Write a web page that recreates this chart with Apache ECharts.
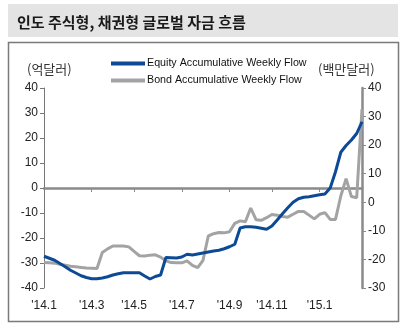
<!DOCTYPE html>
<html>
<head>
<meta charset="utf-8">
<script src="https://cdn.jsdelivr.net/npm/echarts@6/dist/echarts.min.js"></script>
<style>
  html, body { margin: 0; padding: 0; background: #fff; }
  #chart { width: 405px; height: 328px; }
</style>
</head>
<body>
<div id="chart"></div>
<script>
// Weekly cumulative flows, Jan 2014 – Feb 2015 (61 weeks)
const weeks = Array.from({ length: 61 }, (_, i) => i);

// Month labels and the week index they sit on
const tickLabels = ["'14.1", "'14.3", "'14.5", "'14.7", "'14.9", "'14.11", "'15.1"];
const tickIndex = [0, 9, 17, 26, 35, 43, 52];

// Equity fund flow, 억달러 (left axis)
const equityFlow = [
  -27.3, -28.1, -28.9, -30.2, -31.5, -32.9, -34.0, -35.1, -35.8, -36.3,
  -36.3, -36.0, -35.5, -34.8, -34.3, -33.9, -33.9, -33.9, -33.9, -35.2,
  -36.4, -35.4, -34.8, -27.8, -27.9, -28.0, -27.6, -26.5, -26.8, -26.4,
  -26.0, -25.6, -25.2, -24.9, -24.3, -23.5, -22.5, -16.0, -15.5, -15.5,
  -15.7, -16.1, -16.5, -15.2, -12.8, -10.3, -7.9, -5.7, -4.3, -3.7,
  -3.5, -3.1, -2.7, -2.4, 0.0, 6.5, 14.3, 17.0, 19.2, 21.8,
  26.5
];

// Bond fund flow, 백만달러 (right axis)
const bondFlow = [
  -21.1, -21.2, -21.3, -21.7, -22.0, -22.4, -22.6, -22.8, -23.0, -23.1,
  -23.2, -17.6, -16.3, -15.3, -15.3, -15.3, -15.6, -17.2, -18.7, -18.8,
  -18.5, -18.4, -19.2, -20.5, -21.1, -21.2, -21.2, -20.5, -22.1, -22.9,
  -20.3, -11.8, -11.0, -10.6, -10.7, -10.3, -7.4, -6.5, -6.8, -2.0,
  -6.1, -6.3, -5.4, -4.3, -4.5, -5.0, -5.2, -4.2, -3.2, -3.2,
  -4.5, -5.8, -4.2, -3.6, -6.0, -6.0, 2.2, 8.3, 2.0, 1.6,
  32.6
];

const seriesNames = ['Equity Accumulative Weekly Flow', 'Bond Accumulative Weekly Flow'];

const FONT = 'Liberation Sans, Arial, sans-serif';
const KFONT = 'Noto Sans CJK KR, sans-serif';
const AXIS_GRAY = '#8a8a8a';
const isTick = (i) => tickIndex.indexOf(i) !== -1;

const chart = echarts.init(document.getElementById('chart'), null, { renderer: 'canvas' });

chart.setOption({
  animation: false,
  backgroundColor: '#ffffff',
  title: {
    text: '인도 주식형, 채권형 글로벌 자금 흐름',
    left: 12,
    top: 10,
    textStyle: { fontFamily: KFONT, fontSize: 15, fontWeight: 'bold', color: '#1a1a1a' }
  },
  graphic: [
    { type: 'rect', z: -10, shape: { x: 8, y: 4, width: 390, height: 33 }, style: { fill: '#e4e4e4' } },
    { type: 'rect', z: -10, shape: { x: 8.5, y: 42.5, width: 390, height: 279 },
      style: { fill: 'none', stroke: '#7a7a7a', lineWidth: 1.5 } },
    { type: 'text', left: 27, top: 63,
      style: { text: '(억달러)', font: '13px ' + KFONT, fill: '#333' } },
    { type: 'text', left: 318, top: 63,
      style: { text: '(백만달러)', font: '13px ' + KFONT, fill: '#333' } }
  ],
  legend: {
    orient: 'vertical',
    left: 106,
    top: 53,
    itemWidth: 34,
    itemHeight: 4,
    itemGap: 6,
    icon: 'rect',
    data: seriesNames,
    textStyle: { fontFamily: FONT, fontSize: 10.7, color: '#111', padding: [0, 0, 0, -3] }
  },
  grid: { left: 44, right: 43, top: 88, bottom: 40 },
  xAxis: [
    {
      type: 'category',
      data: weeks,
      boundaryGap: false,
      axisLine: { onZero: true, lineStyle: { color: AXIS_GRAY, width: 2.5 } },
      axisTick: { show: true, interval: (i) => isTick(i) && i !== 0, length: 4, lineStyle: { color: AXIS_GRAY, width: 1 } },
      axisLabel: { show: false },
      splitLine: { show: false }
    },
    {
      type: 'category',
      data: weeks,
      boundaryGap: false,
      position: 'bottom',
      axisLine: { show: false, onZero: false },
      axisTick: { show: false },
      axisLabel: {
        interval: (i) => isTick(i),
        formatter: (v, i) => {
          const k = tickIndex.indexOf(i);
          return k === -1 ? '' : tickLabels[k];
        },
        margin: 12,
        fontFamily: FONT, fontSize: 12, color: '#222'
      },
      splitLine: { show: false }
    }
  ],
  yAxis: [
    {
      type: 'value',
      min: -40, max: 40, interval: 10,
      axisLine: { show: true, lineStyle: { color: '#777', width: 1 } },
      axisTick: { show: true, length: 4, lineStyle: { color: '#777' } },
      axisLabel: { margin: 6, fontFamily: FONT, fontSize: 12, color: '#222' },
      splitLine: { show: false }
    },
    {
      type: 'value',
      min: -30, max: 40, interval: 10,
      position: 'right',
      axisLine: { show: true, onZero: false, lineStyle: { color: AXIS_GRAY, width: 2.5 } },
      axisTick: { show: true, length: 4, lineStyle: { color: AXIS_GRAY, width: 1 } },
      axisLabel: { margin: 6, fontFamily: FONT, fontSize: 12, color: '#222' },
      splitLine: { show: false }
    }
  ],
  series: [
    {
      name: seriesNames[0],
      type: 'line',
      xAxisIndex: 0,
      yAxisIndex: 0,
      data: equityFlow,
      symbol: 'none',
      z: 3,
      color: '#0d4a96',
      lineStyle: { width: 3, color: '#0d4a96' }
    },
    {
      name: seriesNames[1],
      type: 'line',
      xAxisIndex: 0,
      yAxisIndex: 1,
      data: bondFlow,
      symbol: 'none',
      z: 2,
      color: '#a3a3a3',
      lineStyle: { width: 3, color: '#a3a3a3' }
    }
  ]
});
</script>
</body>
</html>
